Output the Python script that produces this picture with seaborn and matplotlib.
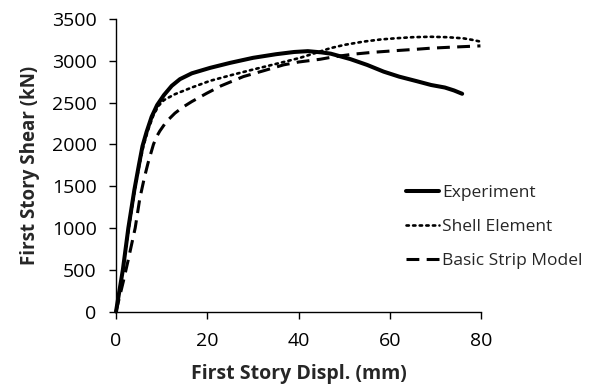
import matplotlib
matplotlib.use("Agg")
import matplotlib.pyplot as plt
import seaborn as sns
import pandas as pd

# First-story displacement (mm) and shear (kN) for each curve
exp_disp = [0, 0.6, 1.5, 2.7, 4.0, 5.0, 5.8, 6.7, 7.8, 9.0, 10.5, 12.2, 14.0, 16.6,
            20.6, 25.0, 30.0, 35.0, 39.0, 42.0, 45.0, 47.0, 51.3, 55.0, 58.6, 62.0,
            65.9, 69.0, 72.0, 74.0, 75.8]
exp_shear = [0, 200, 500, 1000, 1450, 1750, 1980, 2150, 2330, 2470, 2590, 2700, 2780,
             2850, 2915, 2975, 3035, 3078, 3105, 3115, 3100, 3085, 3020, 2950, 2870,
             2810, 2755, 2710, 2680, 2645, 2605]

shell_disp = [0, 0.6, 1.5, 2.8, 4.1, 5.1, 6.0, 7.0, 8.2, 9.3, 10.5, 12.9, 16.6, 20.6,
              25.7, 30.0, 33.0, 36.7, 40.3, 43.5, 46.9, 50.0, 54.2, 58.0, 61.5, 65.0,
              68.8, 72.5, 76.1, 78.0, 79.8]
shell_shear = [0, 200, 500, 1000, 1450, 1750, 1980, 2170, 2350, 2460, 2530, 2600,
               2680, 2760, 2835, 2895, 2935, 2985, 3035, 3090, 3150, 3190, 3229, 3255,
               3270, 3282, 3287, 3282, 3268, 3250, 3229]

strip_disp = [0, 0.8, 1.6, 2.6, 3.4, 4.2, 5.2, 6.2, 7.0, 8.2, 8.9, 9.6, 11.0, 12.9,
              14.5, 16.6, 19.9, 23.0, 27.9, 32.3, 36.7, 40.0, 44.7, 48.0, 52.0, 56.0,
              61.5, 65.9, 68.8, 73.2, 79.8]
strip_shear = [0, 180, 360, 600, 800, 1000, 1350, 1600, 1775, 2000, 2093, 2160, 2270,
               2373, 2440, 2512, 2612, 2700, 2811, 2880, 2951, 2985, 3018, 3050, 3079,
               3100, 3122, 3138, 3150, 3162, 3178]

series_names = ["Experiment", "Shell Element", "Basic Strip Model"]

sns.set_style("ticks")
plt.rcParams["font.family"] = ["Open Sans", "DejaVu Sans"]

fig = plt.figure(figsize=(5.95, 3.87), dpi=100)
ax = fig.add_axes([0.195, 0.195, 0.614, 0.756])

styles = [
    dict(linewidth=2.9, linestyle="-", solid_joinstyle="round", solid_capstyle="round"),
    dict(linewidth=1.9, linestyle=(0, (0.9, 1.6)), dash_capstyle="round"),
    dict(linewidth=2.2, linestyle=(0, (4.2, 2.4)), dash_joinstyle="round"),
]
data = [(exp_disp, exp_shear), (shell_disp, shell_shear), (strip_disp, strip_shear)]

for name, (xs, ys), st in zip(series_names, data, styles):
    df = pd.DataFrame({"disp": xs, "shear": ys})
    sns.lineplot(data=df, x="disp", y="shear", ax=ax, color="black", sort=False,
                 label=name, clip_on=False, **st)

ax.set_xlim(0, 80)
ax.set_ylim(0, 3500)
ax.set_xticks(range(0, 81, 20))
ax.set_yticks(range(0, 3501, 500))
ax.tick_params(axis="both", direction="out", length=5, width=1, labelsize=14,
               colors="black")
ax.tick_params(axis="y", pad=9)
ax.tick_params(axis="x", pad=10)
for side in ("top", "right"):
    ax.spines[side].set_visible(False)
for side in ("left", "bottom"):
    ax.spines[side].set_color("black")
    ax.spines[side].set_linewidth(1)

ax.set_xlabel("First Story Displ. (mm)", fontsize=14, fontweight="bold", labelpad=10)
ax.set_ylabel("First Story Shear (kN)", fontsize=13.5, fontweight="bold", labelpad=8)

leg = ax.legend(loc="center left", bbox_to_anchor=(0.795, 0.29), frameon=False,
                fontsize=12.5, handlelength=1.9, handletextpad=0.15, labelspacing=1.02,
                borderaxespad=0, borderpad=0)
for h in leg.get_lines():
    h.set_color("black")

fig.savefig("out.png", dpi=100)
